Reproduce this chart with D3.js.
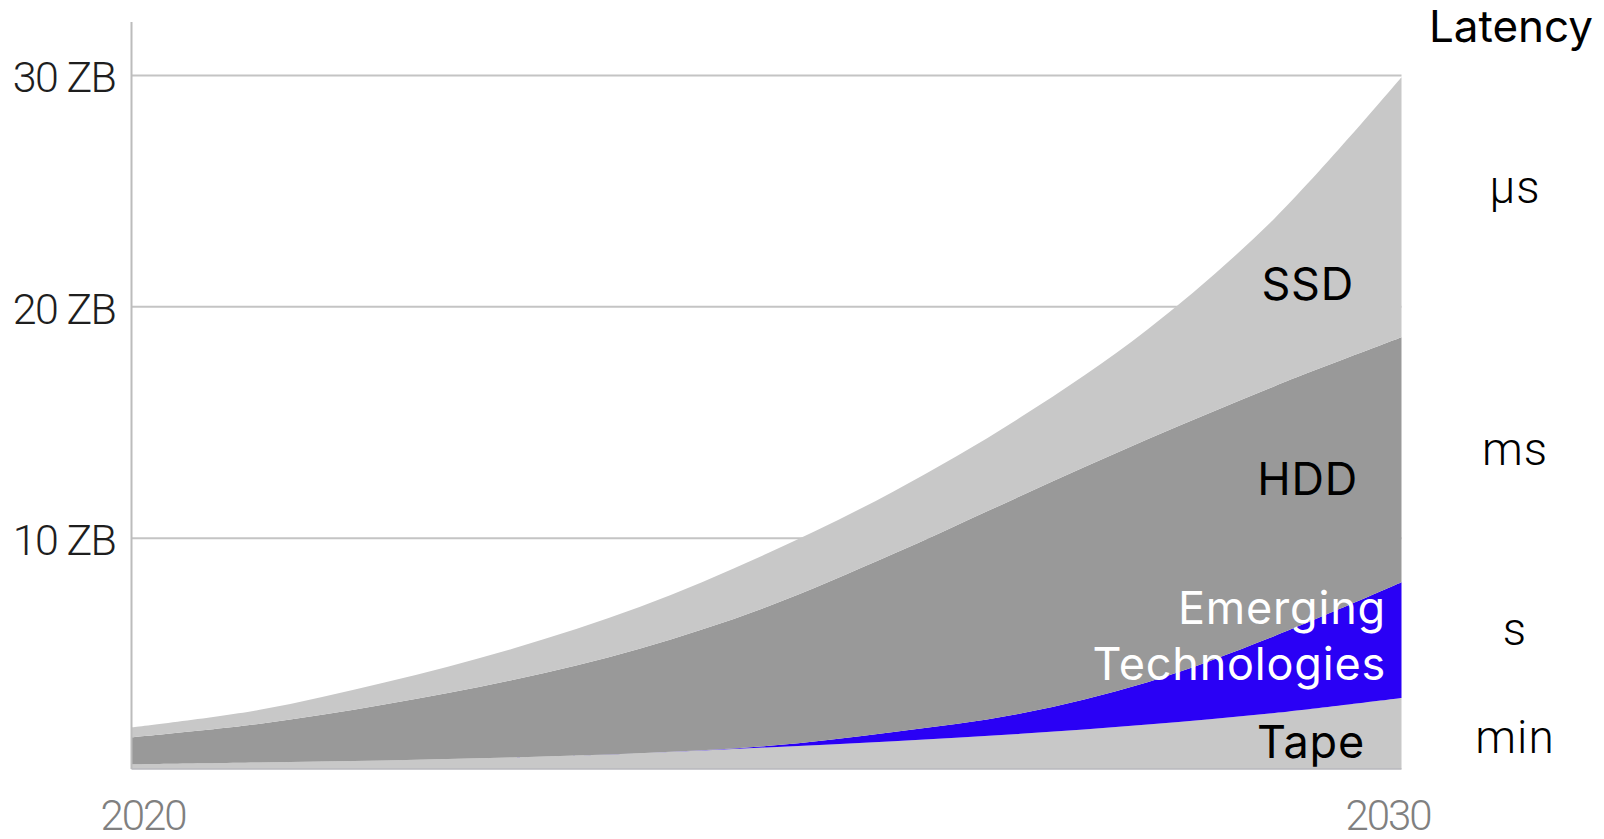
<!DOCTYPE html>
<html>
<head>
<meta charset="utf-8">
<script src="https://cdn.jsdelivr.net/npm/d3@7"></script>
<style>
  html, body { margin: 0; padding: 0; background: #ffffff; }
  svg { display: block; }
  .tick-label { font-family: Roboto, "Noto Sans", sans-serif; font-weight: 300; }
  .layer-label { font-family: Inter, "Noto Sans", sans-serif; font-weight: 400; }
  .latency { font-family: Roboto, "Noto Sans", sans-serif; font-weight: 300; }
</style>
</head>
<body>
<svg id="chart" width="1604" height="839"></svg>
<script>
// Global storage capacity shipped per technology, zettabytes
const years     = [2020, 2021, 2022, 2023, 2024, 2025, 2026, 2027, 2028, 2029, 2030];
const tape      = [0.20, 0.28, 0.37, 0.50, 0.68, 0.93, 1.20, 1.52, 1.92, 2.42, 3.07];
const emerging  = [0.00, 0.00, 0.00, 0.00, 0.00, 0.06, 0.40, 0.88, 1.83, 3.33, 5.00];
const hdd       = [1.17, 1.67, 2.43, 3.35, 4.52, 6.01, 7.70, 9.40, 10.50, 10.80, 10.59];
const ssd       = [0.43, 0.60, 0.95, 1.35, 1.80, 2.30, 2.70, 3.40, 4.75, 7.25, 11.24];

const seriesNames  = ["Tape", "Emerging Technologies", "HDD", "SSD"];
const seriesColors = ["#c8c8c8", "#2a00f5", "#999999", "#c8c8c8"];

const yTicks      = [10, 20, 30];
const yTickLabels = ["10 ZB", "20 ZB", "30 ZB"];
const xTicks      = [2020, 2030];

const latencyTitle  = "Latency";
const latencyLabels = ["µs", "ms", "s", "min"];

// ---- layout ----
const svg = d3.select("#chart");
const plotLeft = 131.5, plotRight = 1401.5, plotTop = 75, plotBottom = 769;

const x = d3.scaleLinear().domain([2020, 2030]).range([plotLeft, plotRight]);
const y = d3.scaleLinear().domain([0, 30]).range([plotBottom, plotTop]);

// ---- stacked data ----
const rows = years.map((yr, i) => ({
  year: yr,
  "Tape": tape[i],
  "Emerging Technologies": emerging[i],
  "HDD": hdd[i],
  "SSD": ssd[i]
}));
const stacked = d3.stack().keys(seriesNames)(rows);

// ---- gridlines + y tick labels ----
const yAxis = d3.axisLeft(y)
  .tickValues(yTicks)
  .tickSize(-(plotRight - plotLeft))
  .tickPadding(16)
  .tickFormat((d, i) => yTickLabels[i]);

const gy = svg.append("g")
  .attr("transform", `translate(${plotLeft},0)`)
  .call(yAxis);
gy.select(".domain").remove();
gy.selectAll(".tick line").attr("stroke", "#c4c4c4").attr("stroke-width", 2);
gy.selectAll(".tick text")
  .attr("class", "tick-label")
  .attr("fill", "#1e1e1e")
  .style("font-size", "43px")
  .style("letter-spacing", "-1.5px")
  .attr("dy", "0.39em");

// ---- stacked areas ----
const area = d3.area()
  .x(d => x(d.data.year))
  .y0(d => y(d[0]))
  .y1(d => y(d[1]))
  .curve(d3.curveCatmullRom.alpha(0.5));

svg.append("g")
  .selectAll("path")
  .data(stacked)
  .join("path")
  .attr("d", area)
  .attr("fill", (d, i) => seriesColors[i]);

// ---- axis lines ----
svg.append("line")
  .attr("x1", plotLeft).attr("x2", plotLeft)
  .attr("y1", 22).attr("y2", plotBottom)
  .attr("stroke", "#bcbcbc").attr("stroke-width", 2);

svg.append("line")
  .attr("x1", plotLeft).attr("x2", plotRight)
  .attr("y1", plotBottom).attr("y2", plotBottom)
  .attr("stroke", "#b9b9be").attr("stroke-width", 1.5);

// ---- x tick labels ----
const xAxis = d3.axisBottom(x)
  .tickValues(xTicks)
  .tickSize(0)
  .tickPadding(0)
  .tickFormat(d3.format("d"));

const gx = svg.append("g")
  .attr("transform", `translate(0,${plotBottom})`)
  .call(xAxis);
gx.select(".domain").remove();
gx.selectAll(".tick text")
  .attr("class", "tick-label")
  .attr("fill", "#808080")
  .style("font-size", "42px")
  .style("letter-spacing", "-2px")
  .attr("y", 61)
  .attr("dy", 0)
  .attr("dx", (d, i) => i === 0 ? 11 : -14);

// ---- layer labels ----
const layerText = svg.append("g")
  .attr("class", "layer-label")
  .style("font-size", "45px")
  .style("letter-spacing", "0.8px");
layerText.append("text").attr("x", 1354).attr("y", 300).attr("text-anchor", "end").attr("fill", "#000").text(seriesNames[3]);
layerText.append("text").attr("x", 1358).attr("y", 495).attr("text-anchor", "end").attr("fill", "#000").text(seriesNames[2]);
const emergingWords = seriesNames[1].split(" ");
layerText.append("text").attr("x", 1386).attr("y", 624).attr("text-anchor", "end").attr("fill", "#ffffff").text(emergingWords[0]);
layerText.append("text").attr("x", 1386).attr("y", 680).attr("text-anchor", "end").attr("fill", "#ffffff").text(emergingWords[1]);
layerText.append("text").attr("x", 1365).attr("y", 758).attr("text-anchor", "end").attr("fill", "#000").text(seriesNames[0]);

// ---- latency column ----
svg.append("text")
  .attr("class", "layer-label")
  .attr("x", 1511).attr("y", 42)
  .attr("text-anchor", "middle")
  .style("font-size", "44px")
  .attr("fill", "#000")
  .text(latencyTitle);

const latencyY = [203, 465, 645, 753];
svg.append("g")
  .selectAll("text")
  .data(latencyLabels)
  .join("text")
  .attr("class", "latency")
  .attr("x", 1515)
  .attr("y", (d, i) => latencyY[i])
  .attr("text-anchor", "middle")
  .style("font-size", "46px")
  .style("letter-spacing", "1px")
  .attr("fill", "#000")
  .text(d => d);
</script>
</body>
</html>
